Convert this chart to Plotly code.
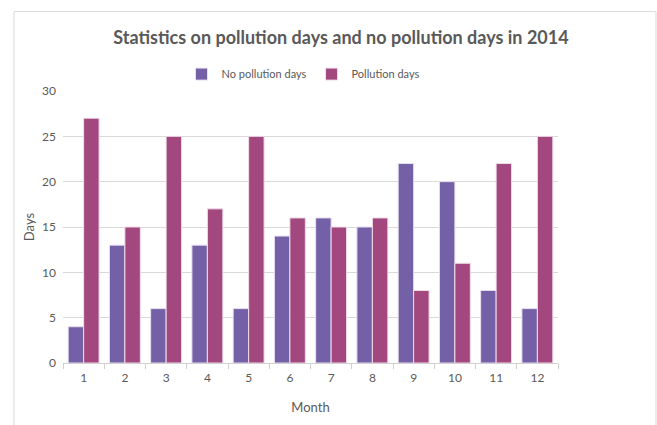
import plotly.graph_objects as go

months = [str(i) for i in range(1, 13)]
no_pollution = [4, 13, 6, 13, 6, 14, 16, 15, 22, 20, 8, 6]
pollution = [27, 15, 25, 17, 25, 16, 15, 16, 8, 11, 22, 25]
y_ticks = [0, 5, 10, 15, 20, 25, 30]

FONT = "Lato"
GREY = "#595959"

fig = go.Figure()
fig.add_trace(go.Bar(x=months, y=no_pollution, name="No pollution days",
                     marker=dict(color="#7460a6", line=dict(color="#e8dff0", width=1))))
fig.add_trace(go.Bar(x=months, y=pollution, name="Pollution days",
                     marker=dict(color="#a2487f", line=dict(color="#f0dde8", width=1))))

L, R, T, B = 63, 99, 91, 60
W, H = 657, 425
pw, ph = W - L - R, H - T - B

def px(x):
    return (x - L) / pw

def py(y):
    return (H - B - y) / ph

fig.update_layout(
    width=W, height=H,
    margin=dict(l=L, r=R, t=T, b=B),
    paper_bgcolor="white", plot_bgcolor="white",
    barmode="group", bargap=0.25, bargroupgap=0,
    font=dict(family=FONT, color=GREY, size=12),
    title=dict(text="<b>Statistics on pollution days and no pollution days in 2014</b>",
               x=px(341), xref="paper", xanchor="center",
               y=1 - 38 / H, yref="container", yanchor="middle",
               font=dict(family=FONT, size=18, color="#595959")),
    legend=dict(orientation="h", x=px(303), xanchor="center", y=py(74), yanchor="middle",
                font=dict(size=11, color=GREY), traceorder="normal",
                itemwidth=30, bgcolor="rgba(0,0,0,0)"),
    showlegend=True,
    xaxis=dict(title=dict(text="Month", font=dict(size=13, color=GREY), standoff=18),
               showgrid=False, showline=True, linecolor="#d0d0d0", linewidth=1,
               ticks="outside", tickson="boundaries", ticklen=5, tickcolor="#d0d0d0",
               ticklabelstandoff=4,
               tickfont=dict(size=12, color=GREY)),
    yaxis=dict(title=dict(text="Days", font=dict(size=13, color=GREY), standoff=4),
               range=[0, 30], tickvals=y_ticks, showgrid=True, gridcolor="#d9d9d9",
               gridwidth=1, zeroline=False, showline=False, ticks="",
               ticklabelstandoff=6,
               tickfont=dict(size=12, color=GREY)),
    shapes=[dict(type="rect", xref="paper", yref="paper",
                 x0=px(14), x1=px(656), y0=py(430), y1=py(11),
                 line=dict(color="#d9d9d9", width=1), layer="below")],
)

fig.write_html("out.html", config={"displayModeBar": False},
               post_script="document.body.style.margin='0';")
